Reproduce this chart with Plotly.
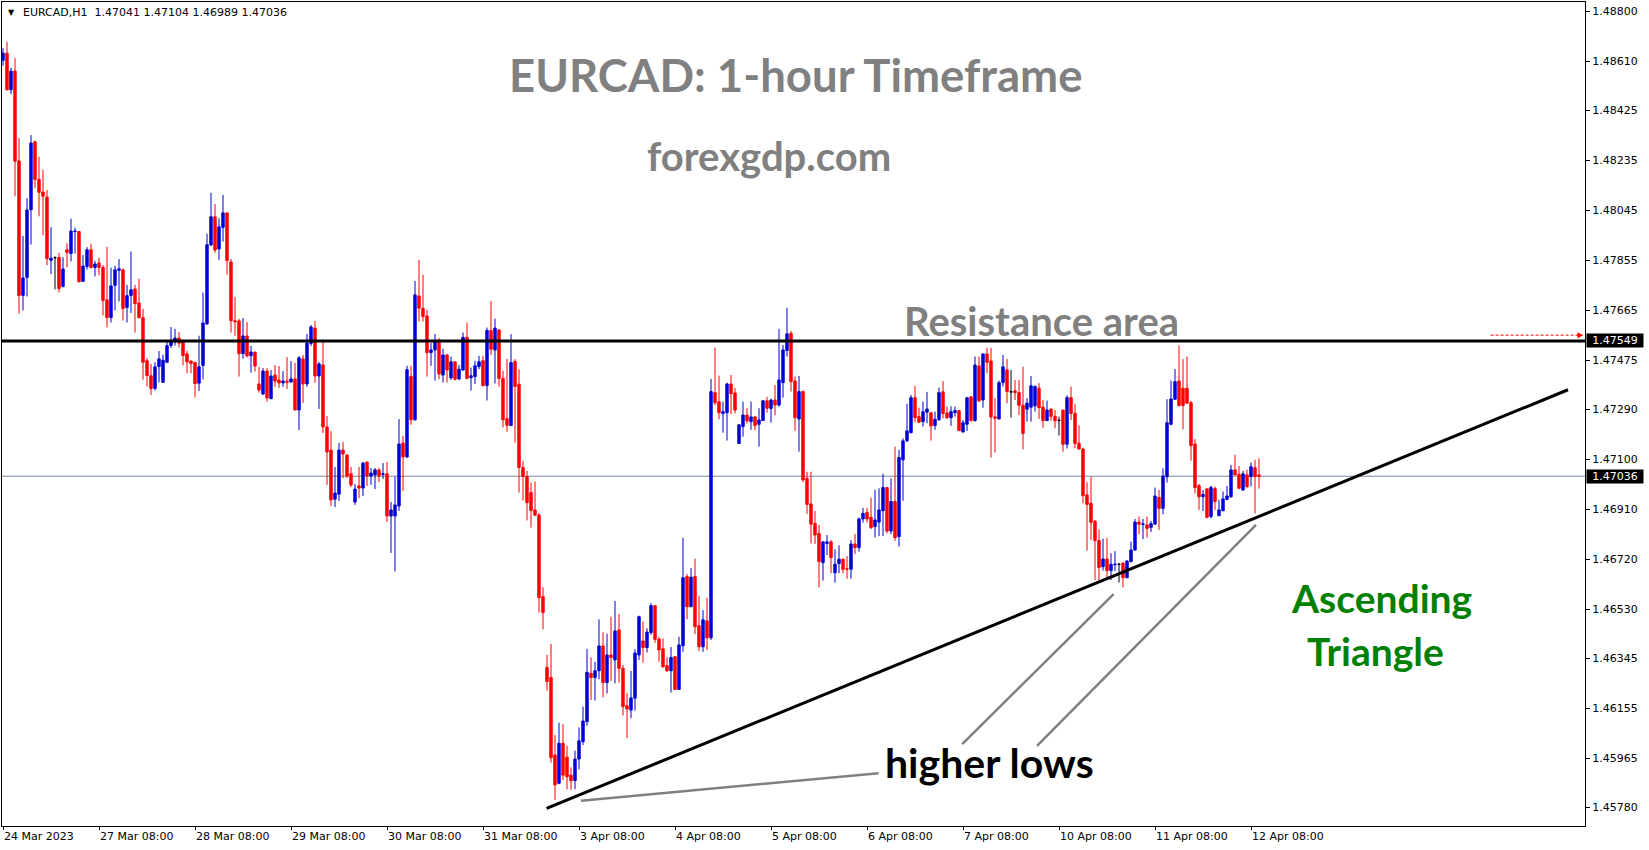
import plotly.graph_objects as go

SYMBOL = "EURCAD,H1"

opens = [
    1.48614, 1.48641, 1.48502, 1.48573, 1.48232, 1.47722, 1.47790, 1.48047, 1.48305, 1.48162,
    1.48114, 1.48095, 1.47855, 1.47865, 1.47866, 1.47756, 1.47895, 1.47881, 1.47964, 1.47964,
    1.47775, 1.47832, 1.47895, 1.47828, 1.47845, 1.47828, 1.47705, 1.47638, 1.47760, 1.47817,
    1.47819, 1.47676, 1.47722, 1.47746, 1.47693, 1.47637, 1.47474, 1.47417, 1.47369, 1.47452,
    1.47392, 1.47468, 1.47532, 1.47546, 1.47560, 1.47545, 1.47500, 1.47473, 1.47468, 1.47389,
    1.47456, 1.47614, 1.47913, 1.48020, 1.47898, 1.47980, 1.48035, 1.47849, 1.47626, 1.47625,
    1.47501, 1.47568, 1.47493, 1.47507, 1.47386, 1.47348, 1.47435, 1.47330, 1.47420, 1.47401,
    1.47390, 1.47397, 1.47393, 1.47405, 1.47287, 1.47481, 1.47386, 1.47540, 1.47598, 1.47416,
    1.47458, 1.47223, 1.47135, 1.46949, 1.46968, 1.47135, 1.47116, 1.47045, 1.46938, 1.46999,
    1.46991, 1.47090, 1.47037, 1.47041, 1.47060, 1.47043, 1.47045, 1.46885, 1.46885, 1.46923,
    1.47162, 1.47109, 1.47414, 1.47250, 1.47720, 1.47673, 1.47644, 1.47505, 1.47515, 1.47543,
    1.47420, 1.47496, 1.47409, 1.47470, 1.47405, 1.47439, 1.47563, 1.47410, 1.47414, 1.47452,
    1.47474, 1.47380, 1.47589, 1.47515, 1.47591, 1.47407, 1.47254, 1.47228, 1.47471, 1.47385,
    1.47069, 1.47035, 1.46974, 1.46908, 1.46889, 1.46579, 1.46311, 1.46272, 1.45978, 1.45871,
    1.46023, 1.45970, 1.45902, 1.45881, 1.45963, 1.46029, 1.46105, 1.46288, 1.46272, 1.46298,
    1.46392, 1.46253, 1.46358, 1.46339, 1.46453, 1.46307, 1.46165, 1.46149, 1.46194, 1.46358,
    1.46411, 1.46386, 1.46443, 1.46545, 1.46418, 1.46381, 1.46317, 1.46298, 1.46351, 1.46227,
    1.46393, 1.46655, 1.46541, 1.46655, 1.46469, 1.46389, 1.46487, 1.46423, 1.47353, 1.47318,
    1.47274, 1.47277, 1.47386, 1.47352, 1.47160, 1.47224, 1.47268, 1.47243, 1.47261, 1.47233,
    1.47247, 1.47322, 1.47293, 1.47325, 1.47306, 1.47391, 1.47513, 1.47578, 1.47397, 1.47253,
    1.47357, 1.47028, 1.46931, 1.46857, 1.46819, 1.46708, 1.46781, 1.46787, 1.46670, 1.46705,
    1.46721, 1.46685, 1.46683, 1.46779, 1.46765, 1.46874, 1.46899, 1.46880, 1.46845, 1.46862,
    1.46905, 1.46993, 1.46828, 1.46940, 1.46807, 1.47098, 1.47170, 1.47201, 1.47334, 1.47262,
    1.47243, 1.47279, 1.47277, 1.47228, 1.47250, 1.47356, 1.47276, 1.47258, 1.47277, 1.47285,
    1.47204, 1.47233, 1.47337, 1.47247, 1.47454, 1.47325, 1.47500, 1.47473, 1.47261, 1.47253,
    1.47391, 1.47439, 1.47356, 1.47360, 1.47353, 1.47305, 1.47290, 1.47298, 1.47303, 1.47370,
    1.47298, 1.47247, 1.47290, 1.47263, 1.47248, 1.47287, 1.47157, 1.47334, 1.47275, 1.47161,
    1.47139, 1.46965, 1.46933, 1.46865, 1.46792, 1.46693, 1.46722, 1.46678, 1.46700, 1.46702,
    1.46706, 1.46651, 1.46712, 1.46756, 1.46862, 1.46853, 1.46851, 1.46841, 1.46854, 1.46955,
    1.46914, 1.47034, 1.47233, 1.47328, 1.47397, 1.47370, 1.47370, 1.47315, 1.47158, 1.47000,
    1.46958, 1.46988, 1.46883, 1.46989, 1.46886, 1.46905, 1.46948, 1.46958, 1.47060, 1.47043,
    1.46984, 1.47041, 1.47035, 1.47068, 1.47041,
]

highs = [
    1.48660, 1.48684, 1.48585, 1.48622, 1.48319, 1.47948, 1.48091, 1.48330, 1.48309, 1.48248,
    1.48199, 1.48122, 1.47981, 1.47870, 1.47884, 1.47867, 1.47920, 1.48013, 1.47979, 1.47964,
    1.47875, 1.47905, 1.47918, 1.47853, 1.47865, 1.47837, 1.47906, 1.47827, 1.47834, 1.47860,
    1.47824, 1.47762, 1.47888, 1.47762, 1.47785, 1.47671, 1.47484, 1.47462, 1.47468, 1.47511,
    1.47497, 1.47547, 1.47602, 1.47595, 1.47583, 1.47545, 1.47512, 1.47475, 1.47468, 1.47569,
    1.47732, 1.47956, 1.48111, 1.48069, 1.48015, 1.48103, 1.48035, 1.47860, 1.47716, 1.47633,
    1.47636, 1.47621, 1.47530, 1.47507, 1.47450, 1.47446, 1.47446, 1.47439, 1.47458, 1.47454,
    1.47435, 1.47488, 1.47473, 1.47466, 1.47492, 1.47496, 1.47576, 1.47610, 1.47625, 1.47469,
    1.47545, 1.47264, 1.47207, 1.47071, 1.47162, 1.47166, 1.47120, 1.47071, 1.47006, 1.47071,
    1.47090, 1.47090, 1.47067, 1.47067, 1.47067, 1.47086, 1.47090, 1.46938, 1.47034, 1.47253,
    1.47189, 1.47455, 1.47455, 1.47777, 1.47857, 1.47800, 1.47667, 1.47541, 1.47576, 1.47560,
    1.47519, 1.47500, 1.47490, 1.47470, 1.47458, 1.47581, 1.47619, 1.47448, 1.47474, 1.47493,
    1.47493, 1.47600, 1.47701, 1.47634, 1.47594, 1.47436, 1.47481, 1.47575, 1.47480, 1.47442,
    1.47094, 1.47056, 1.47012, 1.47016, 1.46896, 1.46615, 1.46358, 1.46400, 1.46054, 1.46101,
    1.46095, 1.46013, 1.45932, 1.45995, 1.46083, 1.46162, 1.46381, 1.46349, 1.46332, 1.46493,
    1.46444, 1.46438, 1.46503, 1.46563, 1.46513, 1.46320, 1.46213, 1.46297, 1.46380, 1.46507,
    1.46485, 1.46459, 1.46554, 1.46545, 1.46427, 1.46421, 1.46349, 1.46388, 1.46354, 1.46427,
    1.46802, 1.46665, 1.46687, 1.46723, 1.46583, 1.46528, 1.46575, 1.47405, 1.47524, 1.47418,
    1.47319, 1.47391, 1.47420, 1.47370, 1.47231, 1.47319, 1.47294, 1.47319, 1.47265, 1.47294,
    1.47325, 1.47337, 1.47330, 1.47382, 1.47595, 1.47534, 1.47675, 1.47587, 1.47414, 1.47416,
    1.47361, 1.47053, 1.47053, 1.46904, 1.46851, 1.46787, 1.46813, 1.46794, 1.46759, 1.46774,
    1.46723, 1.46733, 1.46794, 1.46817, 1.46880, 1.46916, 1.46916, 1.46954, 1.46984, 1.46990,
    1.47045, 1.46993, 1.47028, 1.47148, 1.47136, 1.47180, 1.47311, 1.47344, 1.47379, 1.47296,
    1.47319, 1.47356, 1.47277, 1.47281, 1.47372, 1.47397, 1.47301, 1.47301, 1.47300, 1.47285,
    1.47249, 1.47334, 1.47337, 1.47490, 1.47490, 1.47500, 1.47523, 1.47523, 1.47332, 1.47399,
    1.47496, 1.47481, 1.47439, 1.47401, 1.47401, 1.47451, 1.47332, 1.47416, 1.47381, 1.47389,
    1.47325, 1.47323, 1.47294, 1.47287, 1.47262, 1.47287, 1.47343, 1.47376, 1.47311, 1.47229,
    1.47144, 1.47013, 1.47034, 1.46870, 1.46834, 1.46799, 1.46802, 1.46744, 1.46752, 1.46707,
    1.46711, 1.46718, 1.46788, 1.46874, 1.46883, 1.46874, 1.46883, 1.46866, 1.46993, 1.46984,
    1.47066, 1.47328, 1.47399, 1.47443, 1.47532, 1.47480, 1.47490, 1.47322, 1.47177, 1.47007,
    1.46984, 1.46988, 1.47000, 1.46997, 1.46946, 1.46978, 1.46999, 1.47079, 1.47117, 1.47075,
    1.47056, 1.47060, 1.47088, 1.47098, 1.47104,
]

lows = [
    1.48593, 1.48499, 1.48485, 1.48098, 1.47653, 1.47665, 1.47718, 1.47915, 1.48128, 1.48022,
    1.47950, 1.47837, 1.47802, 1.47745, 1.47733, 1.47752, 1.47828, 1.47851, 1.47881, 1.47771,
    1.47775, 1.47820, 1.47824, 1.47794, 1.47798, 1.47646, 1.47600, 1.47619, 1.47665, 1.47699,
    1.47627, 1.47619, 1.47655, 1.47581, 1.47636, 1.47402, 1.47376, 1.47344, 1.47361, 1.47392,
    1.47392, 1.47468, 1.47522, 1.47532, 1.47524, 1.47456, 1.47427, 1.47427, 1.47335, 1.47359,
    1.47403, 1.47610, 1.47910, 1.47884, 1.47856, 1.47926, 1.47801, 1.47581, 1.47569, 1.47414,
    1.47482, 1.47486, 1.47429, 1.47433, 1.47353, 1.47344, 1.47319, 1.47330, 1.47375, 1.47371,
    1.47375, 1.47367, 1.47393, 1.47287, 1.47211, 1.47314, 1.47375, 1.47530, 1.47391, 1.47291,
    1.47200, 1.47003, 1.46923, 1.46919, 1.46942, 1.47029, 1.47029, 1.46995, 1.46927, 1.46953,
    1.46961, 1.46999, 1.47003, 1.46987, 1.47014, 1.47025, 1.46862, 1.46745, 1.46675, 1.46904,
    1.46980, 1.47105, 1.47231, 1.47247, 1.47623, 1.47623, 1.47414, 1.47455, 1.47399, 1.47404,
    1.47391, 1.47391, 1.47401, 1.47399, 1.47401, 1.47436, 1.47404, 1.47361, 1.47386, 1.47442,
    1.47376, 1.47323, 1.47496, 1.47388, 1.47376, 1.47221, 1.47205, 1.47228, 1.47164, 1.46974,
    1.46944, 1.46868, 1.46841, 1.46885, 1.46519, 1.46455, 1.46223, 1.45949, 1.45808, 1.45868,
    1.45884, 1.45848, 1.45846, 1.45849, 1.45924, 1.46016, 1.46090, 1.46187, 1.46185, 1.46266,
    1.46197, 1.46212, 1.46259, 1.46250, 1.46253, 1.46128, 1.46042, 1.46118, 1.46147, 1.46339,
    1.46329, 1.46367, 1.46434, 1.46404, 1.46332, 1.46310, 1.46294, 1.46215, 1.46225, 1.46225,
    1.46370, 1.46493, 1.46539, 1.46437, 1.46373, 1.46370, 1.46377, 1.46415, 1.47306, 1.47252,
    1.47201, 1.47171, 1.47272, 1.47275, 1.47160, 1.47186, 1.47236, 1.47212, 1.47210, 1.47148,
    1.47247, 1.47277, 1.47239, 1.47267, 1.47300, 1.47334, 1.47490, 1.47357, 1.47208, 1.47129,
    1.47013, 1.46893, 1.46781, 1.46779, 1.46614, 1.46640, 1.46737, 1.46668, 1.46632, 1.46668,
    1.46668, 1.46647, 1.46647, 1.46740, 1.46750, 1.46860, 1.46860, 1.46836, 1.46804, 1.46809,
    1.46809, 1.46819, 1.46816, 1.46790, 1.46769, 1.46943, 1.47167, 1.47199, 1.47239, 1.47239,
    1.47224, 1.47237, 1.47171, 1.47212, 1.47247, 1.47255, 1.47253, 1.47227, 1.47262, 1.47209,
    1.47201, 1.47208, 1.47243, 1.47243, 1.47317, 1.47296, 1.47427, 1.47107, 1.47126, 1.47253,
    1.47376, 1.47313, 1.47258, 1.47325, 1.47268, 1.47138, 1.47243, 1.47243, 1.47281, 1.47253,
    1.47220, 1.47247, 1.47247, 1.47218, 1.47190, 1.47129, 1.47141, 1.47249, 1.47142, 1.47137,
    1.46933, 1.46754, 1.46794, 1.46642, 1.46636, 1.46678, 1.46642, 1.46642, 1.46676, 1.46633,
    1.46614, 1.46649, 1.46709, 1.46754, 1.46816, 1.46797, 1.46803, 1.46824, 1.46854, 1.46832,
    1.46891, 1.47012, 1.47229, 1.47325, 1.47300, 1.47214, 1.47310, 1.47095, 1.46971, 1.46908,
    1.46904, 1.46876, 1.46876, 1.46908, 1.46886, 1.46904, 1.46946, 1.46955, 1.47041, 1.46988,
    1.46980, 1.46990, 1.46997, 1.46895, 1.46989,
]

closes = [
    1.48641, 1.48502, 1.48573, 1.48231, 1.47722, 1.47788, 1.48046, 1.48300, 1.48162, 1.48113,
    1.48098, 1.47861, 1.47863, 1.47865, 1.47748, 1.47822, 1.47885, 1.47966, 1.47966, 1.47774,
    1.47833, 1.47895, 1.47828, 1.47841, 1.47828, 1.47703, 1.47638, 1.47758, 1.47819, 1.47823,
    1.47672, 1.47721, 1.47743, 1.47691, 1.47637, 1.47468, 1.47418, 1.47369, 1.47451, 1.47481,
    1.47476, 1.47531, 1.47546, 1.47560, 1.47541, 1.47494, 1.47470, 1.47464, 1.47388, 1.47451,
    1.47617, 1.47914, 1.48020, 1.47894, 1.47982, 1.48035, 1.47854, 1.47626, 1.47622, 1.47501,
    1.47568, 1.47493, 1.47507, 1.47454, 1.47363, 1.47435, 1.47333, 1.47416, 1.47397, 1.47390,
    1.47397, 1.47393, 1.47405, 1.47287, 1.47485, 1.47386, 1.47541, 1.47602, 1.47416, 1.47462,
    1.47223, 1.47128, 1.46946, 1.46972, 1.47135, 1.47120, 1.47037, 1.47003, 1.46987, 1.46991,
    1.47086, 1.47037, 1.47048, 1.47060, 1.47037, 1.47045, 1.46885, 1.46908, 1.46927, 1.47158,
    1.47109, 1.47440, 1.47250, 1.47724, 1.47673, 1.47642, 1.47505, 1.47515, 1.47547, 1.47424,
    1.47496, 1.47439, 1.47470, 1.47404, 1.47442, 1.47563, 1.47407, 1.47417, 1.47455, 1.47470,
    1.47380, 1.47589, 1.47518, 1.47598, 1.47407, 1.47250, 1.47229, 1.47467, 1.47376, 1.47069,
    1.47035, 1.46936, 1.46906, 1.46888, 1.46575, 1.46519, 1.46257, 1.45968, 1.45865, 1.46023,
    1.45902, 1.45896, 1.45881, 1.45963, 1.46032, 1.46107, 1.46292, 1.46272, 1.46298, 1.46392,
    1.46253, 1.46358, 1.46348, 1.46449, 1.46307, 1.46162, 1.46153, 1.46195, 1.46365, 1.46503,
    1.46386, 1.46445, 1.46545, 1.46417, 1.46377, 1.46313, 1.46298, 1.46348, 1.46227, 1.46396,
    1.46651, 1.46541, 1.46653, 1.46465, 1.46389, 1.46491, 1.46423, 1.47357, 1.47315, 1.47277,
    1.47281, 1.47386, 1.47349, 1.47287, 1.47231, 1.47268, 1.47246, 1.47261, 1.47228, 1.47249,
    1.47322, 1.47294, 1.47325, 1.47306, 1.47401, 1.47515, 1.47576, 1.47395, 1.47258, 1.47357,
    1.47022, 1.46929, 1.46854, 1.46813, 1.46712, 1.46787, 1.46787, 1.46727, 1.46702, 1.46721,
    1.46683, 1.46683, 1.46779, 1.46765, 1.46874, 1.46895, 1.46874, 1.46841, 1.46870, 1.46908,
    1.46993, 1.46828, 1.46940, 1.46803, 1.47107, 1.47170, 1.47208, 1.47334, 1.47258, 1.47241,
    1.47281, 1.47291, 1.47227, 1.47252, 1.47353, 1.47274, 1.47258, 1.47281, 1.47285, 1.47209,
    1.47239, 1.47334, 1.47247, 1.47458, 1.47322, 1.47500, 1.47468, 1.47261, 1.47256, 1.47391,
    1.47451, 1.47357, 1.47356, 1.47353, 1.47305, 1.47198, 1.47313, 1.47379, 1.47376, 1.47296,
    1.47247, 1.47287, 1.47263, 1.47247, 1.47248, 1.47157, 1.47334, 1.47274, 1.47160, 1.47139,
    1.46962, 1.46929, 1.46861, 1.46792, 1.46690, 1.46722, 1.46678, 1.46702, 1.46702, 1.46702,
    1.46651, 1.46714, 1.46756, 1.46862, 1.46854, 1.46855, 1.46838, 1.46856, 1.46961, 1.46914,
    1.47037, 1.47239, 1.47329, 1.47395, 1.47304, 1.47304, 1.47313, 1.47152, 1.46993, 1.46958,
    1.46967, 1.46880, 1.46993, 1.46940, 1.46908, 1.46950, 1.46961, 1.47060, 1.47041, 1.46990,
    1.47045, 1.46997, 1.47072, 1.47035, 1.47036,
]

# bar numbers (1 = 24 Mar 2023 08:00, hourly bars) drawn as neutral doji crosses
doji_bars = [14, 253, 265, 280]

tick_bars = [1, 25, 49, 73, 97, 121, 145, 169, 193, 217, 241, 265, 289, 313]
tick_labels = ["24 Mar 2023", "27 Mar 08:00", "28 Mar 08:00", "29 Mar 08:00", "30 Mar 08:00",
               "31 Mar 08:00", "3 Apr 08:00", "4 Apr 08:00", "5 Apr 08:00", "6 Apr 08:00",
               "7 Apr 08:00", "10 Apr 08:00", "11 Apr 08:00", "12 Apr 08:00"]

price_ticks = [1.48800, 1.48610, 1.48425, 1.48235, 1.48045, 1.47855, 1.47665, 1.47475, 1.47290,
               1.47100, 1.46910, 1.46720, 1.46530, 1.46345, 1.46155, 1.45965, 1.45780]

resistance_level = 1.47549
last_price = closes[-1]
alert_level = 1.47571
trendline_bars = [136.9, 392.25]
trendline_prices = [1.45776, 1.47364]
pointer_bars = [[145.5, 219.9], [240.8, 278.65], [259.5, 314.25]]
pointer_prices = [[1.45805, 1.45909], [1.46020, 1.46589], [1.46013, 1.46851]]

BLUE = "#0000D2"
RED = "#FF0000"
GRAY = "#808080"
GREEN = "#008000"

bars = list(range(1, len(opens) + 1))
main_idx = [i for i, b in enumerate(bars) if b not in doji_bars]
doji_idx = [i for i, b in enumerate(bars) if b in doji_bars]


def pick(arr, idx):
    return [arr[i] for i in idx]


fig = go.Figure()
fig.add_trace(go.Candlestick(
    x=pick(bars, main_idx), open=pick(opens, main_idx), high=pick(highs, main_idx),
    low=pick(lows, main_idx), close=pick(closes, main_idx),
    increasing=dict(line=dict(color=BLUE, width=1), fillcolor=BLUE),
    decreasing=dict(line=dict(color=RED, width=1), fillcolor=RED),
    whiskerwidth=0, hoverinfo="skip", showlegend=False,
))
fig.add_trace(go.Candlestick(
    x=pick(bars, doji_idx), open=pick(opens, doji_idx), high=pick(highs, doji_idx),
    low=pick(lows, doji_idx), close=pick(closes, doji_idx),
    increasing=dict(line=dict(color="black", width=1), fillcolor="black"),
    decreasing=dict(line=dict(color="black", width=1), fillcolor="black"),
    whiskerwidth=0, hoverinfo="skip", showlegend=False,
))

# current price line (behind candles)
fig.add_shape(type="line", xref="paper", x0=0, x1=1, yref="y", y0=last_price, y1=last_price,
              line=dict(color="#778899", width=1), layer="below")
# resistance line
fig.add_shape(type="line", xref="paper", x0=0, x1=1, yref="y", y0=resistance_level, y1=resistance_level,
              line=dict(color="black", width=3.2))
# ascending trendline
fig.add_shape(type="line", xref="x", yref="y", x0=trendline_bars[0], x1=trendline_bars[1],
              y0=trendline_prices[0], y1=trendline_prices[1], line=dict(color="black", width=3))
# pointer lines to the higher lows
for xs, ys in zip(pointer_bars, pointer_prices):
    fig.add_shape(type="line", xref="x", yref="y", x0=xs[0], x1=xs[1], y0=ys[0], y1=ys[1],
                  line=dict(color=GRAY, width=2.5))
# red dashed alert arrow at the right edge
fig.add_shape(type="line", xref="x", yref="y", x0=372.9, x1=395.0, y0=alert_level, y1=alert_level,
              line=dict(color=RED, width=1, dash="3px,2px"))

ann = []
ann.append(dict(x=396.1, y=alert_level, xref="x", yref="y", ax=394.6, ay=alert_level, axref="x", ayref="y",
                text="", showarrow=True, arrowhead=2, arrowsize=1, arrowwidth=1.2, arrowcolor=RED))

title_font = dict(family="Lato", color=GRAY, weight="bold")
ann.append(dict(x=199.2, y=1.48560, xref="x", yref="y", text="EURCAD: 1-hour Timeframe", showarrow=False,
                font=dict(title_font, size=45.5), xanchor="center", yanchor="middle"))
ann.append(dict(x=192.4, y=1.48249, xref="x", yref="y", text="forexgdp.com", showarrow=False,
                font=dict(title_font, size=40), xanchor="center", yanchor="middle"))
ann.append(dict(x=260.7, y=1.47626, xref="x", yref="y", text="Resistance area", showarrow=False,
                font=dict(title_font, size=40), xanchor="center", yanchor="middle"))
ann.append(dict(x=345.7, y=1.46575, xref="x", yref="y", text="Ascending", showarrow=False,
                font=dict(family="Lato", color=GREEN, weight="bold", size=39), xanchor="center", yanchor="middle"))
ann.append(dict(x=344.2, y=1.46374, xref="x", yref="y", text="Triangle", showarrow=False,
                font=dict(family="Lato", color=GREEN, weight="bold", size=39), xanchor="center", yanchor="middle"))
ann.append(dict(x=247.5, y=1.45950, xref="x", yref="y", text="higher lows", showarrow=False,
                font=dict(family="Lato", color="black", weight="bold", size=41), xanchor="center", yanchor="middle"))

# price boxes on the right axis
for lvl in (resistance_level, last_price):
    ann.append(dict(x=1, xref="paper", y=lvl, yref="y", xanchor="left", yanchor="middle", xshift=1,
                    text=f"{lvl:.5f}", showarrow=False, bgcolor="black", borderpad=0,
                    width=56, height=13, align="center",
                    font=dict(family="DejaVu Sans", size=11, color="white")))

# header
ann.append(dict(x=0.0057, y=0.9875, xref="paper", yref="paper", text="\u25BC", showarrow=False,
                xanchor="center", yanchor="middle", font=dict(family="DejaVu Sans", size=8, color="black")))
header = f"{SYMBOL}\u00a0\u00a0{opens[-1]:.5f} {highs[-1]:.5f} {lows[-1]:.5f} {closes[-1]:.5f}"
ann.append(dict(x=0.012, y=0.9873, xref="paper", yref="paper", text=header, showarrow=False,
                xanchor="left", yanchor="middle", font=dict(family="DejaVu Sans", size=11, color="black")))

fig.update_layout(
    width=1649, height=850,
    margin=dict(l=2, r=64, t=2, b=24, pad=0),
    paper_bgcolor="white", plot_bgcolor="white",
    showlegend=False,
    boxgap=0.15,
    annotations=ann,
    xaxis=dict(range=[0.75, 396.5], rangeslider=dict(visible=False), showgrid=False, zeroline=False,
               showline=True, linecolor="black", linewidth=1, mirror=True,
               ticks="outside", ticklen=3, tickcolor="black", tickwidth=1,
               tickmode="array", tickvals=tick_bars, ticktext=tick_labels,
               ticklabelposition="outside right",
               tickfont=dict(family="DejaVu Sans", size=11, color="black")),
    yaxis=dict(side="right", range=[1.45709, 1.48835], showgrid=False, zeroline=False,
               showline=True, linecolor="black", linewidth=1, mirror=True,
               ticks="outside", ticklen=4, tickcolor="black", tickwidth=1,
               tickmode="array", tickvals=price_ticks, ticktext=[f"{v:.5f}" for v in price_ticks],
               tickfont=dict(family="DejaVu Sans", size=11, color="black")),
)

fig.write_html("out.html", include_plotlyjs=True, full_html=True,
               config={"displayModeBar": False},
               post_script="document.body.style.margin='0';document.body.style.overflow='hidden';")
